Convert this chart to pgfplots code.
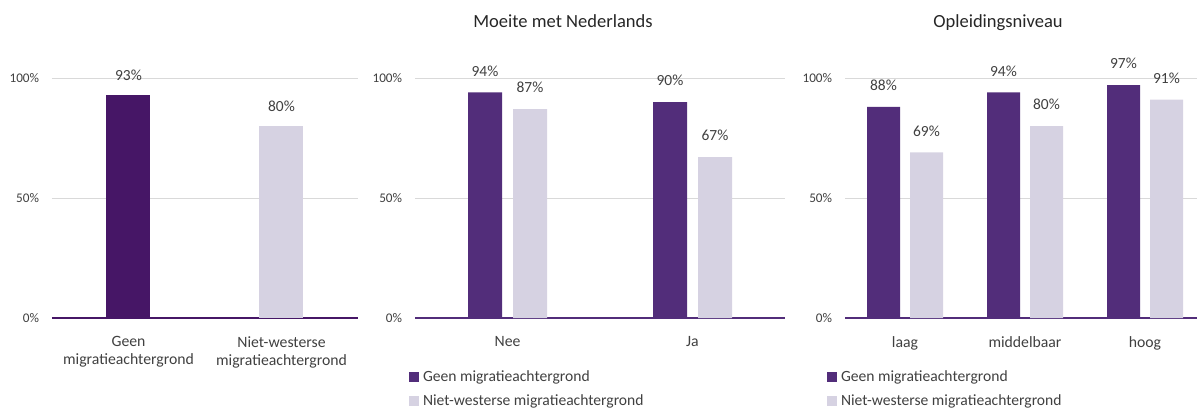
\documentclass[border=0pt]{standalone}
\usepackage{fontspec}
\setmainfont{Carlito}
\usepackage{pgfplots}
\pgfplotsset{compat=1.18}
\definecolor{darkA}{HTML}{461666}
\definecolor{darkB}{HTML}{522D7A}
\definecolor{lightB}{HTML}{D6D2E2}
\definecolor{gridc}{HTML}{D9D9D9}
\definecolor{txt}{HTML}{404040}
\definecolor{ttl}{HTML}{262626}
\pgfplotsset{
  sq legend/.style={legend image code/.code={\fill[##1] (0pt,-3.75pt) rectangle (7.5pt,3.75pt);}},
  base/.style={
    scale only axis, height=180pt, ymin=0, ymax=100, clip=false,
    anchor=south west,
    /pgf/number format/assume math mode=true,
    axis line style={draw=none}, major tick length=0pt,
    ytick={50,100}, ymajorgrids, grid style={gridc, line width=0.75pt},
    extra y ticks={0}, extra y tick style={grid style={#1, line width=1.5pt}},
    yticklabel={\pgfmathprintnumber{\tick}\%},
    yticklabel style={font=\fontsize{9.9}{11}\selectfont, text=txt, anchor=east, inner sep=0pt, xshift=-9.5pt},
    xticklabel style={font=\fontsize{11.8}{13.5}\selectfont, text=txt, align=center, anchor=north, inner sep=0pt, yshift=-13.5pt},
    nodes near coords={\pgfmathprintnumber{\pgfplotspointmeta}\%},
    every node near coord/.append style={font=\fontsize{11.6}{13}\selectfont, text=txt, inner sep=0pt},
    title style={font=\fontsize{13.9}{16}\selectfont, text=ttl, inner sep=0pt, anchor=base},
    legend style={draw=none, fill=none, inner sep=0pt, outer sep=0pt,
      font=\fontsize{11.7}{13}\selectfont, text=txt,
      nodes={inner sep=0pt, text=txt}, column sep=3pt, row sep=8pt,
      anchor=north west},
    legend cell align=left,
  },
}
\begin{document}
\begin{tikzpicture}
\useasboundingbox (0,0) rectangle (897.75pt,-306pt);
% Panel 1
\begin{axis}[base=darkA, at={(39pt,-238.5pt)}, width=229.5pt,
  xmin=-0.5, xmax=1.5, xtick={0,1},
  xticklabels={{Geen\\migratieachtergrond},{Niet-westerse\\migratieachtergrond}},
  every node near coord/.append style={yshift=10.5pt}]
\addplot[ybar, bar width=33pt, bar shift=0pt, fill=darkA, draw=none] coordinates {(0,93)};
\addplot[ybar, bar width=33pt, bar shift=0pt, fill=lightB, draw=none] coordinates {(1,80)};
\end{axis}
% Panel 2
\begin{axis}[base=darkB, at={(311.25pt,-238.5pt)}, width=277.5pt,
  xmin=-0.5, xmax=1.5, xtick={0,1}, xticklabels={Nee,Ja},
  title={Moeite met Nederlands},
  title style={at={(axis description cs:0.4,1)}, yshift=32.25pt},
  every node near coord/.append style={yshift=12pt},
  legend style={at={(axis description cs:0,0)}, xshift=-4.5pt, yshift=-39.75pt}]
\addplot[ybar, bar width=25.5pt, bar shift=-16.875pt, fill=darkB, draw=none, sq legend,
  every node near coord/.append style={xshift=-16.875pt}] coordinates {(0,94) (1,90)};
\addplot[ybar, bar width=25.5pt, bar shift=16.875pt, fill=lightB, draw=none, sq legend,
  every node near coord/.append style={xshift=16.875pt}] coordinates {(0,87) (1,67)};
\legend{Geen migratieachtergrond, Niet-westerse migratieachtergrond}
\end{axis}
% Panel 3
\begin{axis}[base=darkB, at={(633.75pt,-238.5pt)}, width=264pt,
  xmin=-0.5, xmax=2.4333, xtick={0,1,2}, xticklabels={laag,middelbaar,hoog},
  title={Opleidingsniveau},
  title style={at={(axis description cs:0.4347,1)}, yshift=32.25pt},
  every node near coord/.append style={yshift=12pt},
  legend style={at={(axis description cs:0,0)}, xshift=-13.5pt, yshift=-39.75pt}]
\addplot[ybar, bar width=24.75pt, bar shift=-16.125pt, fill=darkB, draw=none, sq legend,
  every node near coord/.append style={xshift=-16.125pt}] coordinates {(0,88) (1,94) (2,97)};
\addplot[ybar, bar width=24.75pt, bar shift=16.125pt, fill=lightB, draw=none, sq legend,
  every node near coord/.append style={xshift=16.125pt}] coordinates {(0,69) (1,80) (2,91)};
\legend{Geen migratieachtergrond, Niet-westerse migratieachtergrond}
\end{axis}
\end{tikzpicture}
\end{document}
